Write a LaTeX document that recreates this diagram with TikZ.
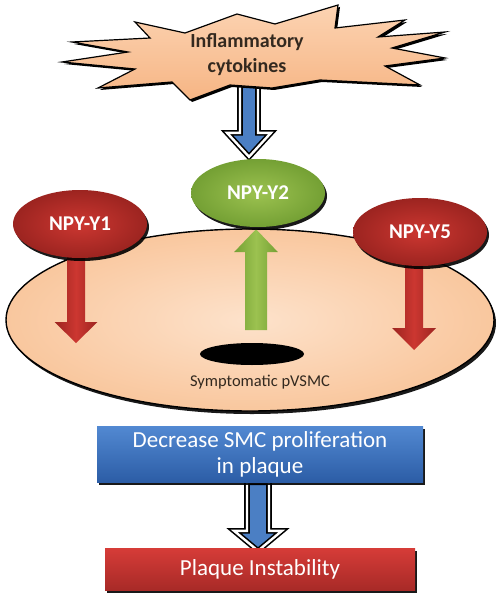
\documentclass[tikz,border=0pt]{standalone}
\usepackage{fontspec}
\setmainfont{Carlito}
\usetikzlibrary{shapes.geometric,shadows,calc}

\pgfdeclarelayer{back}
\pgfdeclarelayer{mid}
\pgfsetlayers{back,mid,main}

\definecolor{peachlight}{HTML}{FDE2CB}
\definecolor{peach}{HTML}{F9C79E}
\definecolor{burstlight}{HTML}{FCD3B2}
\definecolor{burstdark}{HTML}{F6B584}
\definecolor{npyred}{HTML}{CC3731}
\definecolor{npyreddark}{HTML}{9C2420}
\definecolor{npygreen}{HTML}{9CC250}
\definecolor{npygreendark}{HTML}{74A034}
\definecolor{boxblue}{HTML}{5289D2}
\definecolor{boxbluedark}{HTML}{2C5DA6}
\definecolor{boxred}{HTML}{D63C38}
\definecolor{boxreddark}{HTML}{A82A27}
\definecolor{arrowblue}{HTML}{4B7FC4}
\definecolor{inktext}{HTML}{33291F}

% vertical block arrow: style, from, to, shaft half width, head half width, head length
\newcommand{\blockarrow}[6]{%
  \path[#1] let \p1=#2, \p2=#3, \n1={ifthenelse(\y1>\y2,1,-1)} in
    ({\x1-#4},{\y1}) -- ({\x1-#4},{\y2+\n1*#6}) -- ({\x1-#5},{\y2+\n1*#6}) -- ({\x1},{\y2})
    -- ({\x1+#5},{\y2+\n1*#6}) -- ({\x1+#4},{\y2+\n1*#6}) -- ({\x1+#4},{\y1}) -- cycle;}

\tikzset{
  blackshadow/.style={drop shadow={shadow xshift=2pt, shadow yshift=-3pt, opacity=0.9, fill=black}},
  cell/.style={ellipse, draw=black, line width=1.4pt, inner sep=0pt,
    minimum width=488pt, minimum height=182pt, inner color=peachlight, outer color=peach,
    blackshadow},
  receptor/.style={ellipse, inner sep=0pt, minimum width=134pt, minimum height=68pt,
    text=white, font=\bfseries\fontsize{21}{24}\selectfont, blackshadow},
  redreceptor/.style={receptor, inner color=npyred, outer color=npyreddark},
  greenreceptor/.style={receptor, inner color=npygreen, outer color=npygreendark},
  pore/.style={ellipse, fill=black, inner sep=0pt, minimum width=104pt, minimum height=22pt},
  celllabel/.style={text=inktext, font=\fontsize{16.5}{19}\selectfont},
  burst/.style={draw=black, line width=1.2pt, line join=miter, top color=burstlight,
    bottom color=burstdark, drop shadow={shadow xshift=2pt, shadow yshift=-2pt, opacity=1, fill=black}},
  bursttext/.style={align=center, text=inktext, font=\bfseries\fontsize{20}{25}\selectfont},
  outcome/.style={rectangle, inner sep=0pt, align=center, text=white,
    font=\fontsize{23}{26}\selectfont, blackshadow},
  redarrow/.style={left color=npyreddark, right color=npyreddark, middle color=npyred},
  greenarrow/.style={left color=npygreendark, right color=npygreendark, middle color=npygreen},
  hollowarrow/.style={fill=arrowblue, draw=black, double=white, double distance=2.4pt,
    line width=1.6pt, line join=miter}
}

\begin{document}
\begin{tikzpicture}[x=1pt,y=-1pt]
\useasboundingbox (0,0) rectangle (500,599);

% the cell
\begin{pgfonlayer}{back}
\node[cell] (cell) at (250,320) {};
\end{pgfonlayer}

% receptors
\node[redreceptor] (npy1) at (80,224) {NPY-Y1};
\node[greenreceptor] (npy2) at (258,193) {NPY-Y2};
\node[redreceptor] (npy5) at (420,232) {NPY-Y5};
\node[pore] (pore) at (252,354) {};
\node[celllabel] (pvsmc) at (260,382) {Symptomatic pVSMC};

% cytokine burst
\draw[burst] (135,22) -- (185,33) -- (237,14) -- (275,24) -- (338,5) -- (335,28)
  -- (405,20) -- (378,37) -- (445,32) -- (392,48) -- (445,58) -- (385,66)
  -- (420,85) -- (320,80) -- (272,88) -- (230,85) -- (190,100) -- (172,82)
  -- (98,88) -- (135,69) -- (62,62) -- (128,52) -- (72,42) -- (150,38) -- cycle;
\node[bursttext] (cytokines) at (247,55) {Inflammatory\\cytokines};

% outcomes
\node[outcome, minimum width=326pt, minimum height=56pt, top color=boxblue,
  bottom color=boxbluedark] (decrease) at (260,454) {Decrease SMC proliferation\\in plaque};
\node[outcome, minimum width=310pt, minimum height=42pt, top color=boxred,
  bottom color=boxreddark] (instab) at (260,569) {Plaque Instability};

\coordinate (y1end) at (76,343);
\coordinate (y2start) at (256,330);
\coordinate (y5end) at (414,350);

\begin{pgfonlayer}{mid}
\blockarrow{hollowarrow}{([xshift=2pt]cytokines.south)}{([yshift=2pt]npy2.north)}{9pt}{22pt}{24pt}
\blockarrow{redarrow}{([xshift=-4pt,yshift=10pt]npy1.south)}{(y1end)}{9pt}{21.5pt}{21pt}
\blockarrow{greenarrow}{(y2start)}{([yshift=-2pt]npy2.south)}{11pt}{22pt}{23pt}
\blockarrow{redarrow}{([xshift=-6pt,yshift=10pt]npy5.south)}{(y5end)}{9pt}{22pt}{22pt}
\blockarrow{hollowarrow}{([xshift=-2pt]decrease.south)}{([yshift=-3pt]instab.north)}{11pt}{24pt}{20pt}
\end{pgfonlayer}
\end{tikzpicture}
\end{document}
